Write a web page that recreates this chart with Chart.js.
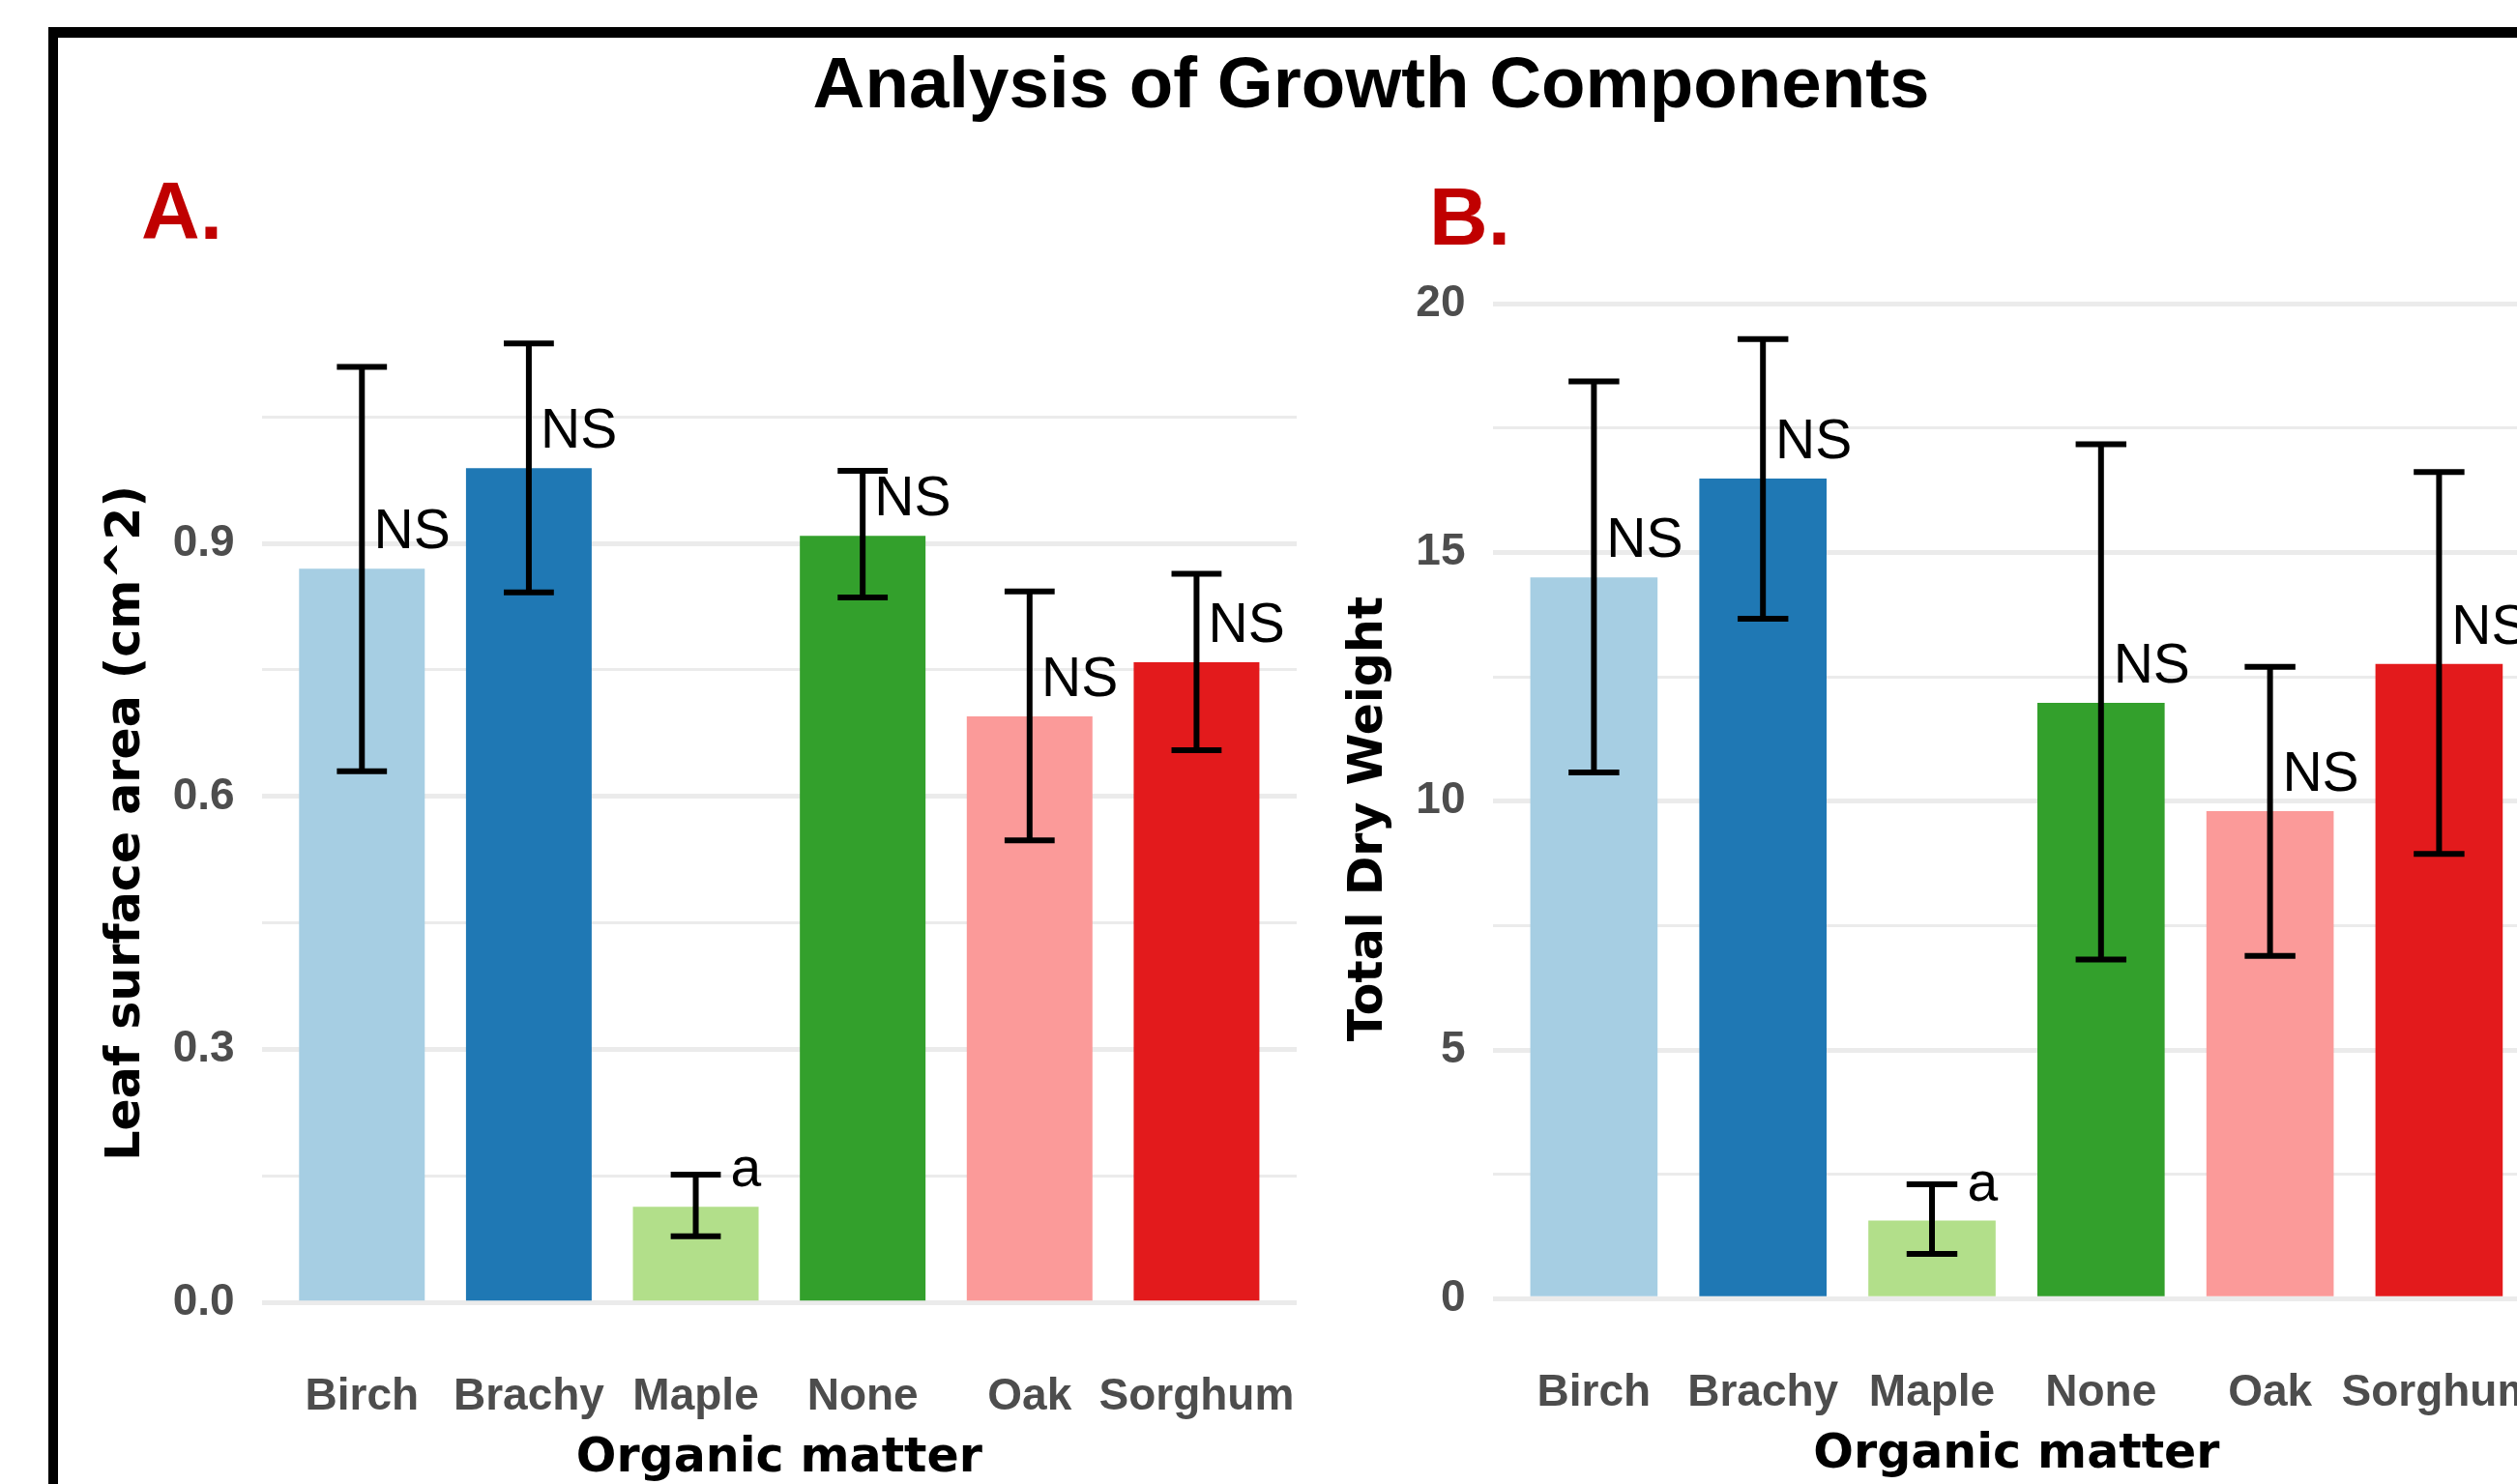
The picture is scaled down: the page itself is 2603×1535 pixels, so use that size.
<!DOCTYPE html>
<html>
<head>
<meta charset="utf-8">
<script src="https://cdn.jsdelivr.net/npm/chart.js@4.4.1/dist/chart.umd.min.js"></script>
<style>
html, body { margin:0; padding:0; background:#fff; width:2603px; height:1535px; overflow:hidden; position:relative; }
#frame { position:absolute; left:50px; top:28px; width:3000px; height:3000px; border-top:11px solid #000; border-left:10px solid #000; box-sizing:border-box; }
.t { position:absolute; white-space:nowrap; font-family:"Liberation Sans", Arial, sans-serif; font-weight:bold; }
#title { left:0; width:2836px; text-align:center; top:49px; font-size:74.5px; line-height:74px; color:#000; }
#la { left:146px; top:176px; font-size:84px; line-height:84px; color:#C00000; }
#lb { left:1478px; top:182px; font-size:84px; line-height:84px; color:#C00000; }
canvas { position:absolute; top:0; }
#cA { left:0; }
#cB { left:1380px; }
</style>
</head>
<body>
<div id="frame"></div>
<canvas id="cA" width="1400" height="1535"></canvas>
<canvas id="cB" width="1320" height="1535"></canvas>
<div class="t" id="title">Analysis of Growth Components</div>
<div class="t" id="la">A.</div>
<div class="t" id="lb">B.</div>
<script>
// ---------- data ----------
const categories = ['Birch', 'Brachy', 'Maple', 'None', 'Oak', 'Sorghum'];
const barColors = ['#A6CEE3', '#1F78B4', '#B2DF8A', '#33A02C', '#FB9A99', '#E31A1C'];

const leafMean  = [0.870, 0.989, 0.114, 0.909, 0.695, 0.759];
const leafLower = [0.630, 0.842, 0.079, 0.836, 0.548, 0.655];
const leafUpper = [1.109, 1.137, 0.152, 0.986, 0.843, 0.864];
const leafLabels = ['NS', 'NS', 'a', 'NS', 'NS', 'NS'];
const leafTicks = [0, 0.3, 0.6, 0.9];
const leafMinorTicks = [0.15, 0.45, 0.75, 1.05];

const dryMean  = [14.50, 16.49, 1.57, 11.98, 9.80, 12.76];
const dryLower = [10.58, 13.67, 0.90, 6.82, 6.89, 8.94];
const dryUpper = [18.44, 19.29, 2.30, 17.18, 12.70, 16.62];
const dryLabels = ['NS', 'NS', 'a', 'NS', 'NS', 'NS'];
const dryTicks = [0, 5, 10, 15, 20];
const dryMinorTicks = [2.5, 7.5, 12.5, 17.5];

const xTitle = 'Organic matter';
const yTitleA = 'Leaf surface area (cm^2)';
const yTitleB = 'Total Dry Weight';

// ---------- helpers ----------
const TICK_FONT = { family: '"Liberation Sans", Arial, sans-serif', size: 46, weight: 'bold', lineHeight: 1 };
const TITLE_FONT = 'bold 49px "DejaVu Sans", sans-serif';
const TICK_PAD = 28;

function extrasPlugin(cfg) {
  return {
    id: 'extras',
    afterDatasetsDraw(chart) {
      const { ctx, scales: { x, y } } = chart;
      ctx.save();
      ctx.strokeStyle = '#000';
      ctx.lineWidth = 6;
      ctx.lineCap = 'butt';
      cfg.mean.forEach((m, i) => {
        const cx = x.getPixelForValue(i);
        const hw = (x.getPixelForValue(i + 0.15) - x.getPixelForValue(i - 0.15)) / 2;
        const yt = y.getPixelForValue(cfg.upper[i]);
        const yb = y.getPixelForValue(cfg.lower[i]);
        ctx.beginPath();
        ctx.moveTo(cx, yt); ctx.lineTo(cx, yb);
        ctx.moveTo(cx - hw, yt); ctx.lineTo(cx + hw, yt);
        ctx.moveTo(cx - hw, yb); ctx.lineTo(cx + hw, yb);
        ctx.stroke();
      });
      ctx.fillStyle = '#000';
      ctx.font = '57px "Liberation Sans", Arial, sans-serif';
      ctx.textAlign = 'center';
      ctx.textBaseline = 'alphabetic';
      cfg.labels.forEach((t, i) => {
        ctx.fillText(t, x.getPixelForValue(i + 0.3), y.getPixelForValue(cfg.mean[i]) - 21);
      });
      ctx.restore();
    },
    afterDraw(chart) {
      const { ctx, chartArea } = chart;
      ctx.save();
      ctx.fillStyle = '#000';
      ctx.font = TITLE_FONT;
      ctx.textAlign = 'center';
      ctx.textBaseline = 'alphabetic';
      ctx.fillText(cfg.xTitle, (chartArea.left + chartArea.right) / 2, chartArea.bottom + 125);
      // y title: left of widest tick label
      ctx.font = 'bold 46px "Liberation Sans", Arial, sans-serif';
      let widest = 0;
      cfg.ticks.forEach(v => { widest = Math.max(widest, ctx.measureText(cfg.fmt(v)).width); });
      const xb = chartArea.left - TICK_PAD - widest - 35;
      ctx.font = TITLE_FONT;
      ctx.translate(xb, (chartArea.top + chartArea.bottom) / 2);
      ctx.rotate(-Math.PI / 2);
      ctx.fillText(cfg.yTitle, 0, 0);
      ctx.restore();
    }
  };
}

function makeChart(canvasId, cfg) {
  const dataMax = Math.max(...cfg.upper);
  const yMin = -0.05 * dataMax;
  const yMax = dataMax * 1.05;
  const allTicks = cfg.ticks.concat(cfg.minor).sort((a, b) => a - b);
  return new Chart(document.getElementById(canvasId), {
    type: 'bar',
    data: {
      datasets: [{
        data: categories.map((c, i) => ({ x: i, y: cfg.mean[i] })),
        backgroundColor: barColors,
        borderWidth: 0,
        categoryPercentage: 1,
        barPercentage: 0.753
      }]
    },
    options: {
      responsive: false,
      devicePixelRatio: 1,
      animation: false,
      events: [],
      layout: { padding: cfg.padding },
      plugins: { legend: { display: false }, tooltip: { enabled: false }, title: { display: false } },
      scales: {
        x: {
          type: 'linear',
          min: -0.6,
          max: categories.length - 0.4,
          offset: false,
          grid: { display: false, drawTicks: false },
          border: { display: false },
          afterBuildTicks: s => { s.ticks = categories.map((c, i) => ({ value: i })); },
          afterFit: s => { s.height = 100; },
          ticks: {
            autoSkip: false, maxRotation: 0, minRotation: 0,
            padding: 25,
            font: TICK_FONT, color: '#4D4D4D',
            callback: v => categories[v]
          }
        },
        y: {
          type: 'linear',
          min: yMin,
          max: yMax,
          grid: {
            color: '#EBEBEB',
            drawTicks: false,
            lineWidth: c => (c.tick && cfg.ticks.includes(c.tick.value)) ? 5 : 3
          },
          border: { display: false },
          afterBuildTicks: s => { s.ticks = allTicks.map(v => ({ value: v })); },
          afterFit: s => { s.width = 150; },
          ticks: {
            padding: TICK_PAD,
            font: TICK_FONT, color: '#4D4D4D',
            callback: v => cfg.ticks.includes(v) ? cfg.fmt(v) : ''
          }
        }
      }
    },
    plugins: [extrasPlugin(cfg)]
  });
}

makeChart('cA', {
  mean: leafMean, lower: leafLower, upper: leafUpper, labels: leafLabels,
  ticks: leafTicks, minor: leafMinorTicks, fmt: v => v.toFixed(1),
  xTitle: xTitle, yTitle: yTitleA,
  padding: { top: 305.5, bottom: 37.7, left: 120.7, right: 59 }
});

makeChart('cB', {
  mean: dryMean, lower: dryLower, upper: dryUpper, labels: dryLabels,
  ticks: dryTicks, minor: dryMinorTicks, fmt: v => String(v),
  xTitle: xTitle, yTitle: yTitleB,
  padding: { top: 301.2, bottom: 42.1, left: 13.5, right: 72.7 }
});
</script>
</body>
</html>
